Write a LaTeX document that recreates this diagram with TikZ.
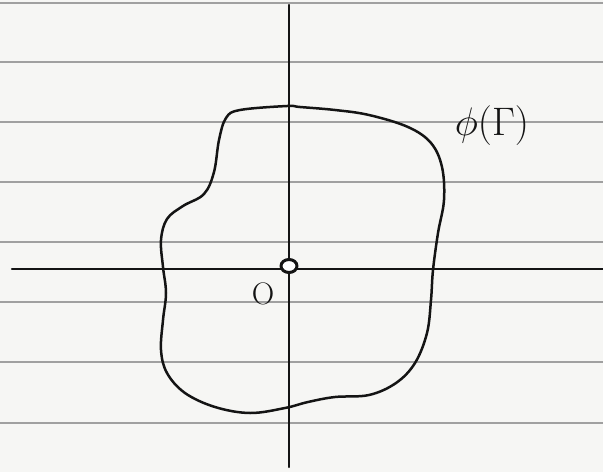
\documentclass[tikz,border=0pt]{standalone}
\usepackage{amsmath, amssymb}
\usepackage{xcolor}
\usepackage{tikz}
\definecolor{paperB}{RGB}{246,246,244}
\definecolor{ruleG}{RGB}{160,160,160}
\definecolor{inkK}{RGB}{20,20,20}

\begin{document}
\begin{tikzpicture}[x=1pt, y=-1pt, line cap=round, line join=round]
% paper, 603 x 472 (y grows downwards)
\fill[paperB] (0,0) rectangle (603,472);
\useasboundingbox (0,0) rectangle (603,472);
% ruled lines of the notebook page
\foreach \y in {3, 62, 122, 182, 242, 302, 362, 423}
  \draw[ruleG, line width=1.8pt] (0,\y) -- (603,\y);
% axes
\coordinate (xl) at (12,269);  \coordinate (xr) at (603,269);
\coordinate (yt) at (289,5);   \coordinate (yb) at (289,467);
\coordinate (O) at (289,266);
\draw[inkK, line width=2.4pt] (xl) -- (xr);
\draw[inkK, line width=2.4pt] (yt) -- (yb);
% origin
\fill[white] (O) ellipse (8 and 6.5);
\draw[inkK, line width=3pt] (O) ellipse (8 and 6.5);
\node[inkK, font=\huge, scale=1.5] (olab) at (263,294) {O};
% the image curve phi(Gamma)
\draw[inkK, line width=2.5pt] plot[smooth cycle, tension=0.6] coordinates {
  (287,106) (240,110) (226,118) (219,140) (214,172) (204,194) (183,206)
  (167,219) (161,240) (163,267) (166,293) (163,320) (161,350) (167,373)
  (185,393) (215,407) (250,413) (285,408) (308,402) (335,397) (369,395)
  (396,383) (415,363) (427,333) (431,300) (433,270) (438,233) (444,200)
  (442,167) (431,143) (408,127) (369,115) (335,110) (300,107)};
\node[inkK, font=\Huge, scale=1.6] (plab) at (492,126) {$\phi(\Gamma)$};
\end{tikzpicture}
\end{document}
